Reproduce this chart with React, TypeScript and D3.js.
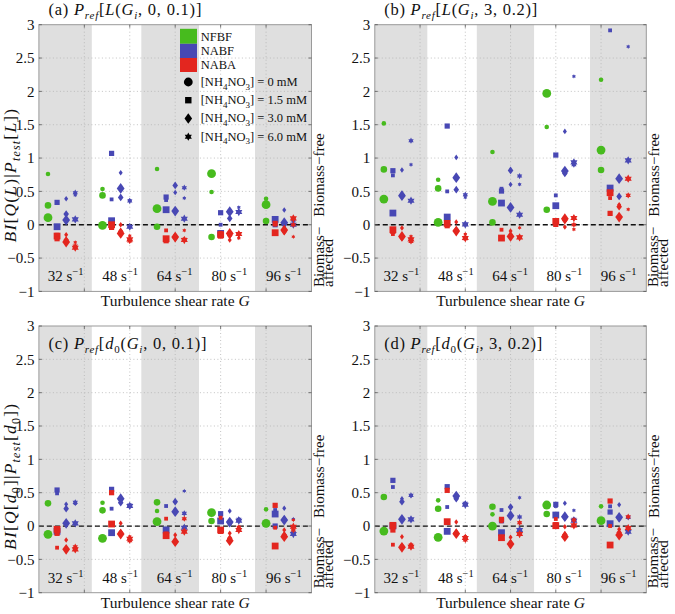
import React from 'react';
import * as d3 from 'd3';

// ---------- data ----------
const G_VALUES = [32, 48, 64, 80, 96];
const Y_TICKS = [-1, -0.5, 0, 0.5, 1, 1.5, 2, 2.5, 3];
const X_GRID = [5, 10, 15, 20, 25];
const BAND_EDGES = [0, 5.83, 11.27, 17.62, 23.78, 30];
const SERIES = ['NFBF', 'NABF', 'NABA'];
const CONC_LABELS = ['0', '1.5', '3.0', '6.0'];

// NFBF: per G group, circle markers [small, medium, large]
// NABF / NABA: per G group, [square(1.5), diamond(3.0), hexagram(6.0)], each [small, medium, large]
const a_NFBF = [[0.76, 0.29, 0.105], [0.535, 0.44, -0.01], [0.835, -0.03, 0.24], [0.49, -0.185, 0.765], [0.39, 0.055, 0.3]];
const a_NABF = [
  [[-0.02, 0.335, -0.03], [0.39, 0.16, 0.07], [0.445, 0.48, 0.08]],
  [[0.38, 1.07, 0.06], [0.78, 0.41, 0.545], [0.37, 0.355, -0.03]],
  [[0.37, 0.415, 0.225], [0.485, 0.59, 0.205], [0.4, 0.555, 0.09]],
  [[0.0, 0.18, -0.13], [0.18, 0.095, 0.195], [0.26, 0.19, 0.19]],
  [[0.06, 0.0, 0.08], [0.22, 0.0, 0.03], [0.05, 0.07, 0.0]],
];
const a_NABA = [
  [[-0.15, -0.21, -0.17], [-0.15, -0.23, -0.26], [-0.265, -0.32, -0.345]],
  [[-0.01, -0.04, 0.0], [0.0, -0.1, -0.13], [-0.165, -0.245, -0.22]],
  [[-0.085, -0.24, -0.21], [-0.155, -0.2, -0.185], [-0.085, -0.22, -0.23]],
  [[-0.12, -0.17, -0.15], [-0.23, -0.16, -0.13], [-0.2, -0.145, -0.14]],
  [[0.0, 0.02, -0.12], [-0.06, -0.1, -0.08], [-0.18, 0.0, 0.095]],
];

const b_NFBF = [[1.52, 0.83, 0.385], [0.675, 0.545, 0.035], [1.09, 0.035, 0.35], [1.465, 0.225, 1.97], [2.175, 0.82, 1.12]];
const b_NABF = [
  [[0.74, 0.81, 0.175], [0.82, 0.45, 0.435], [0.9, 1.26, 0.36]],
  [[0.5, 1.48, 0.115], [1.01, 0.525, 0.705], [0.41, 0.45, 0.005]],
  [[0.54, 0.505, 0.325], [0.605, 0.815, 0.26], [0.605, 0.73, 0.15]],
  [[0.44, 1.045, 0.285], [1.4, 0.77, 0.805], [2.225, 0.9, 0.935]],
  [[2.915, 0.5, 0.55], [0.42, 0.425, 0.69], [2.67, 0.69, 0.965]],
];
const b_NABA = [
  [[-0.14, -0.1, -0.075], [-0.05, -0.19, -0.175], [-0.175, -0.25, -0.22]],
  [[0.0, -0.015, 0.02], [0.04, -0.08, -0.095], [-0.14, -0.21, -0.2]],
  [[-0.075, -0.2, -0.2], [-0.095, -0.17, -0.175], [-0.045, -0.19, -0.19]],
  [[0.02, 0.005, 0.05], [-0.035, 0.065, 0.09], [-0.07, 0.0, 0.1]],
  [[0.4, 0.17, 0.48], [0.3, 0.27, 0.115], [0.23, 0.44, 0.69]],
];

const c_NFBF = [[0.34, 0.34, -0.125], [0.35, 0.235, -0.185], [0.225, 0.355, 0.065], [0.19, 0.075, 0.2], [0.25, 0.03, 0.04]];
const c_NABF = [
  [[0.49, 0.54, -0.08], [0.325, 0.26, 0.04], [0.33, 0.355, 0.04]],
  [[0.26, 0.55, -0.1], [0.38, 0.35, 0.41], [0.31, 0.315, 0.3]],
  [[0.3, -0.05, -0.06], [0.36, 0.365, 0.215], [0.525, 0.19, -0.025]],
  [[0.17, 0.185, 0.075], [0.225, 0.04, 0.06], [0.105, 0.1, 0.08]],
  [[0.24, 0.0, 0.18], [0.265, 0.1, 0.09], [0.105, -0.1, -0.12]],
];
const c_NABA = [
  [[-0.325, -0.11, -0.05], [-0.21, -0.35, -0.35], [-0.33, -0.31, -0.35]],
  [[0.02, 0.5, 0.03], [0.04, -0.1, -0.12], [-0.16, -0.22, -0.19]],
  [[0.11, -0.12, -0.145], [-0.135, -0.24, -0.235], [-0.07, 0.11, -0.085]],
  [[0.125, -0.08, -0.06], [-0.11, -0.185, -0.22], [-0.04, -0.02, -0.06]],
  [[-0.025, 0.31, -0.3], [-0.06, -0.135, -0.16], [0.09, -0.06, -0.01]],
];

const d_NFBF = [[0.43, 0.435, -0.075], [0.385, 0.26, -0.17], [0.175, 0.29, 0.0], [0.3, 0.18, 0.315], [0.295, 0.08, 0.08]];
const d_NABF = [
  [[0.585, 0.685, 0.0], [0.41, 0.365, 0.1], [0.45, 0.46, 0.1]],
  [[0.285, 0.59, -0.08], [0.43, 0.41, 0.45], [0.33, 0.34, 0.32]],
  [[0.24, 0.08, -0.1], [0.28, 0.285, 0.155], [0.425, 0.135, -0.06]],
  [[0.3, 0.325, 0.165], [0.34, 0.13, 0.14], [0.235, 0.1, 0.08]],
  [[0.295, 0.21, 0.035], [0.32, 0.12, 0.13], [0.13, 0.13, -0.085]],
];
const d_NABA = [
  [[-0.28, -0.06, 0.01], [-0.16, -0.31, -0.32], [-0.27, -0.29, -0.31]],
  [[0.05, 0.535, 0.065], [0.06, -0.1, -0.115], [-0.15, -0.21, -0.18]],
  [[0.07, 0.1, -0.175], [-0.17, -0.26, -0.27], [0.055, 0.05, -0.12]],
  [[0.105, 0.02, 0.005], [-0.01, -0.13, -0.16], [0.0, 0.09, 0.01]],
  [[0.0, 0.375, -0.285], [-0.05, -0.1, -0.135], [-0.035, 0.14, -0.03]],
];

// ---------- style / layout ----------
const COLORS: Record<string, string> = { NFBF: '#47bb1e', NABF: '#4848b4', NABA: '#e3261f' };
const FONT = '"Liberation Serif", "Times New Roman", serif';
const BAND_GRAY = '#dfdfdf';
const FRAME = '#9a9a9a';
const GRID = '#b4b4b4';

const CIRCLE_R = [2.3, 3.3, 4.4];
const SQUARE_H = [1.9, 2.6, 3.4];
const DIAMOND_W = [2.0, 2.8, 3.9];
const HEX_R = [2.2, 3.1, 4.1];

const PANELS = [
  { key: 'a', title: '(a)', q: 'L', args: '0, 0.1', nfbf: a_NFBF, nabf: a_NABF, naba: a_NABA, x0: 38.9, x1: 311.5, yTop: 24.7, left: true, legend: true, inside: false },
  { key: 'b', title: '(b)', q: 'L', args: '3, 0.2', nfbf: b_NFBF, nabf: b_NABF, naba: b_NABA, x0: 374.8, x1: 646.3, yTop: 24.7, left: false, legend: false, inside: false },
  { key: 'c', title: '(c)', q: 'd', args: '0, 0.1', nfbf: c_NFBF, nabf: c_NABF, naba: c_NABA, x0: 38.9, x1: 311.5, yTop: 326, left: true, legend: false, inside: true },
  { key: 'd', title: '(d)', q: 'd', args: '3, 0.2', nfbf: d_NFBF, nabf: d_NABF, naba: d_NABA, x0: 374.8, x1: 646.3, yTop: 326, left: false, legend: false, inside: true },
];
const PLOT_H = 266.7;

function diamondPath(cx: number, cy: number, w: number) {
  const h = w * 1.38;
  return `M${cx},${cy - h}L${cx + w},${cy}L${cx},${cy + h}L${cx - w},${cy}Z`;
}
function hexPath(cx: number, cy: number, R: number) {
  const r = R / Math.sqrt(3);
  const pts: string[] = [];
  for (let k = 0; k < 12; k++) {
    const ang = -Math.PI / 2 + (k * Math.PI) / 6;
    const rr = k % 2 === 0 ? R : r;
    pts.push(`${cx + rr * Math.cos(ang)},${cy + rr * Math.sin(ang)}`);
  }
  return 'M' + pts.join('L') + 'Z';
}

function Marker({ shape, cx, cy, s, color }: { shape: number; cx: number; cy: number; s: number; color: string }) {
  if (shape === 0) return <circle cx={cx} cy={cy} r={CIRCLE_R[s]} fill={color} />;
  if (shape === 1) return <rect x={cx - SQUARE_H[s]} y={cy - SQUARE_H[s]} width={2 * SQUARE_H[s]} height={2 * SQUARE_H[s]} fill={color} />;
  if (shape === 2) return <path d={diamondPath(cx, cy, DIAMOND_W[s])} fill={color} />;
  return <path d={hexPath(cx, cy, HEX_R[s])} fill={color} />;
}

function fmtTick(v: number) {
  const s = String(Math.abs(v));
  return v < 0 ? '\u2212' + s : s;
}

function Panel({ p }: { p: (typeof PANELS)[number] }) {
  const x = d3.scaleLinear().domain([0, 30]).range([p.x0, p.x1]);
  const y = d3.scaleLinear().domain([-1, 3]).range([p.yTop + PLOT_H, p.yTop]);
  const yBot = p.yTop + PLOT_H;
  const marks: React.ReactNode[] = [];
  p.nfbf.forEach((vals, g) => {
    [2, 1, 0].forEach((s) => {
      marks.push(<Marker key={`g${g}${s}`} shape={0} cx={x(1 + 6 * g)} cy={y(vals[s])} s={s} color={COLORS.NFBF} />);
    });
  });
  [['NABF', p.nabf], ['NABA', p.naba]].forEach(([name, arr]: any) => {
    (arr as number[][][]).forEach((grp, g) => {
      grp.forEach((vals, c) => {
        [2, 1, 0].forEach((s) => {
          marks.push(
            <Marker key={`${name}${g}${c}${s}`} shape={c + 1} cx={x(2 + c + 6 * g)} cy={y(vals[s])} s={s} color={COLORS[name]} />
          );
        });
      });
    });
  });

  const titleY = p.inside ? p.yTop + 22.5 : 14.5;
  const isD = p.q === 'd';
  const y0 = y(0);

  return (
    <g>
      {BAND_EDGES.slice(0, -1).map((e, i) => (
        <rect key={`b${i}`} x={x(e)} y={p.yTop} width={x(BAND_EDGES[i + 1]) - x(e)} height={PLOT_H} fill={i % 2 === 0 ? BAND_GRAY : '#ffffff'} />
      ))}
      {Y_TICKS.slice(1, -1).map((t) => (
        <line key={`hy${t}`} x1={p.x0} x2={p.x1} y1={y(t)} y2={y(t)} stroke={GRID} strokeWidth={0.8} strokeDasharray="1,2.5" />
      ))}
      {X_GRID.map((t) => (
        <line key={`vx${t}`} x1={x(t)} x2={x(t)} y1={p.yTop} y2={yBot} stroke={GRID} strokeWidth={0.8} strokeDasharray="1,2.5" />
      ))}
      <line x1={p.x0} x2={p.x1} y1={y0} y2={y0} stroke="#111" strokeWidth={1.3} strokeDasharray="5,3" />
      <rect x={p.x0} y={p.yTop} width={p.x1 - p.x0} height={PLOT_H} fill="none" stroke={FRAME} strokeWidth={1} />
      {Y_TICKS.map((t) => (
        <g key={`yt${t}`}>
          <line x1={p.x0} x2={p.x0 + 3} y1={y(t)} y2={y(t)} stroke="#555" strokeWidth={0.8} />
          <line x1={p.x1} x2={p.x1 - 3} y1={y(t)} y2={y(t)} stroke="#555" strokeWidth={0.8} />
          <text x={p.x0 - 4.5} y={y(t)} dy="0.35em" textAnchor="end" fontSize={15} fontFamily={FONT} fill="#111">
            {fmtTick(t)}
          </text>
        </g>
      ))}
      {X_GRID.map((t) => (
        <g key={`xt${t}`}>
          <line x1={x(t)} x2={x(t)} y1={p.yTop} y2={p.yTop + 3} stroke="#555" strokeWidth={0.8} />
          <line x1={x(t)} x2={x(t)} y1={yBot} y2={yBot - 3} stroke="#555" strokeWidth={0.8} />
        </g>
      ))}
      {marks}
      {G_VALUES.map((G, g) => (
        <text key={`gl${G}`} x={x(2.95 + 6 * g)} y={y(-0.85)} textAnchor="middle" fontSize={15} fontFamily={FONT} fill="#111">
          {G} s<tspan dy={-6} fontSize={10.5}>{'\u22121'}</tspan>
        </text>
      ))}
      <text x={p.x0 + 9.5} y={titleY} fontSize={16.5} fontFamily={FONT} fill="#111" textLength={isD ? 158 : 153} lengthAdjust="spacing">
        {p.title + ' '}
        <tspan fontStyle="italic">P</tspan>
        <tspan fontStyle="italic" fontSize={11} dy={4}>ref</tspan>
        <tspan dy={-4}>[</tspan>
        <tspan fontStyle="italic">{p.q}</tspan>
        {isD ? <tspan fontSize={11} dy={4}>0</tspan> : null}
        <tspan dy={isD ? -4 : 0}>(</tspan>
        <tspan fontStyle="italic">G</tspan>
        <tspan fontStyle="italic" fontSize={11} dy={4}>i</tspan>
        <tspan dy={-4}>{', ' + p.args + ')]'}</tspan>
      </text>
      {p.left ? (
        <text transform={`translate(16,${(p.yTop + yBot) / 2 + 17}) rotate(-90)`} textAnchor="middle" fontSize={17.5} letterSpacing={1.2} fontFamily={FONT} fill="#111">
          <tspan fontStyle="italic">BI</tspan>
          <tspan>[</tspan>
          <tspan fontStyle="italic">Q</tspan>
          {isD ? (
            <>
              <tspan>[</tspan>
              <tspan fontStyle="italic">d</tspan>
              <tspan fontSize={12} dy={3.5}>0</tspan>
              <tspan dy={-3.5}>]|</tspan>
            </>
          ) : (
            <>
              <tspan>(</tspan>
              <tspan fontStyle="italic">L</tspan>
              <tspan>)|</tspan>
            </>
          )}
          <tspan fontStyle="italic">P</tspan>
          <tspan fontStyle="italic" fontSize={12} dy={3.5}>test</tspan>
          <tspan dy={-3.5}>[</tspan>
          <tspan fontStyle="italic">{p.q}</tspan>
          {isD ? <tspan fontSize={12} dy={3.5}>0</tspan> : null}
          <tspan dy={isD ? -3.5 : 0}>])</tspan>
        </text>
      ) : null}
      <text x={(p.x0 + p.x1) / 2} y={yBot + 15} textAnchor="middle" fontSize={15.5} fontFamily={FONT} fill="#111">
        Turbulence shear rate <tspan fontStyle="italic">G</tspan>
      </text>
      <text transform={`translate(${p.x1 + 12.8},${y0 - 8}) rotate(-90)`} fontSize={15} fontFamily={FONT} fill="#111">
        {'Biomass\u2212free'}
      </text>
      <text transform={`translate(${p.x1 + 12},${yBot - 4.5}) rotate(-90)`} fontSize={15} fontFamily={FONT} fill="#111">
        {'Biomass\u2212'}
      </text>
      <text transform={`translate(${p.x1 + 21.3},${yBot - 4.5}) rotate(-90)`} fontSize={15} fontFamily={FONT} fill="#111">
        affected
      </text>
      {p.legend ? <Legend x0={p.x0} /> : null}
    </g>
  );
}

function Legend({ x0 }: { x0: number }) {
  const sx = x0 + 141.1;
  const tx = x0 + 161.8;
  const swY = [28.8, 43.8, 58];
  const swH = [15, 14.2, 14];
  const textY = [40.5, 54.8, 69];
  const rowY = [82, 100.2, 118.4, 136.7];
  const mx = x0 + 149.4;
  return (
    <g>
      {SERIES.map((s, i) => (
        <g key={s}>
          <rect x={sx} y={swY[i]} width={17} height={swH[i]} fill={COLORS[s]} />
          <text x={tx} y={textY[i]} fontSize={12.5} fontFamily={FONT} fill="#111">{s}</text>
        </g>
      ))}
      {CONC_LABELS.map((c, i) => (
        <g key={c}>
          {i === 0 ? <circle cx={mx} cy={rowY[i]} r={4.4} fill="#000" /> : null}
          {i === 1 ? <rect x={mx - 3.2} y={rowY[i] - 3.2} width={6.4} height={6.4} fill="#000" /> : null}
          {i === 2 ? <path d={diamondPath(mx, rowY[i], 3.8)} fill="#000" /> : null}
          {i === 3 ? <path d={hexPath(mx, rowY[i], 4.1)} fill="#000" /> : null}
          <text x={tx} y={rowY[i] + 4} fontSize={12.5} fontFamily={FONT} fill="#111">
            [NH<tspan fontSize={9} dy={3.5}>4</tspan>
            <tspan dy={-3.5}>NO</tspan>
            <tspan fontSize={9} dy={3.5}>3</tspan>
            <tspan dy={-3.5}>{'] = ' + c + ' mM'}</tspan>
          </text>
        </g>
      ))}
    </g>
  );
}

export default function App() {
  return (
    <svg width={675} height={614} viewBox="0 0 675 614" style={{ position: 'absolute', left: 0, top: 0, background: '#fff' }}>
      <rect x={0} y={0} width={675} height={614} fill="#fff" />
      {PANELS.map((p) => (
        <Panel key={p.key} p={p} />
      ))}
    </svg>
  );
}
